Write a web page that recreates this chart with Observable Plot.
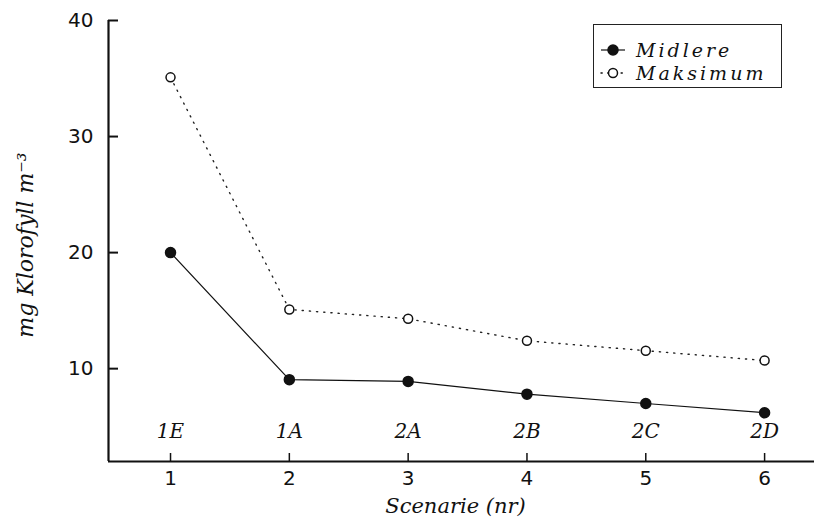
<!DOCTYPE html>
<html><head><meta charset="utf-8">
<script src="https://cdn.jsdelivr.net/npm/d3@7"></script>
<script src="https://cdn.jsdelivr.net/npm/@observablehq/plot@0.6"></script>
<style>
body{margin:0;background:#fff;}
#wrap{position:relative;width:814px;height:529px;}
.legend{position:absolute;left:593px;top:24px;width:189px;height:64px;border:1.5px solid #222;box-sizing:border-box;background:#fff;}
.legend .row{position:absolute;left:0;height:22px;display:flex;align-items:center;}
.legend .row svg{margin-left:6px;}
.legend .lab{font-family:"DejaVu Serif",serif;font-style:italic;font-size:19px;letter-spacing:3px;color:#111;margin-left:10px;}
g[aria-label="ylabel"] text{letter-spacing:1.5px;}
g[aria-label="xlabel"] text{letter-spacing:0.6px;}
</style></head><body><div id="wrap"></div>
<script>
const scenario = [1, 2, 3, 4, 5, 6];
const scenarioCodes = ["1E", "1A", "2A", "2B", "2C", "2D"];
const midlere = [20.0, 9.05, 8.9, 7.8, 7.0, 6.2];
const maksimum = [35.1, 15.1, 14.3, 12.4, 11.55, 10.7];
const yTicks = [10, 20, 30, 40];
const xTicks = [1, 2, 3, 4, 5, 6];
const xDomain = [0.478, 6.42];
const yDomain = [2, 40];
const seriesNames = ["Midlere", "Maksimum"];

const midData = scenario.map((s, i) => ({s, v: midlere[i]}));
const maxData = scenario.map((s, i) => ({s, v: maksimum[i]}));
const codeData = scenario.map((s, i) => ({s, c: scenarioCodes[i]}));

const W = 814, H = 529, mL = 108, mR = 0, mT = 20, mB = 68;
const frameW = W - mL - mR, frameH = H - mT - mB;
const serif = "'DejaVu Serif', serif";

const chart = Plot.plot({
  width: W, height: H,
  marginLeft: mL, marginRight: mR, marginTop: mT, marginBottom: mB,
  x: {domain: xDomain},
  y: {domain: yDomain},
  style: {fontFamily: "'DejaVu Sans', sans-serif", fontSize: "20px", color: "#111", background: "white"},
  marks: [
    Plot.axisY(yTicks, {tickSize: 0, tickPadding: 15, label: null, fontSize: 20, tickFormat: d3.format("d")}),
    Plot.axisX(xTicks, {tickSize: 0, tickPadding: 9, label: null, fontSize: 20, tickFormat: d3.format("d")}),
    Plot.tickY(yTicks, {y: d => d, insetRight: frameW - 10, stroke: "#111", strokeWidth: 2}),
    Plot.tickX(xTicks, {x: d => d, insetTop: frameH - 8, stroke: "#111", strokeWidth: 1.5}),
    Plot.ruleY([yDomain[0]], {stroke: "#111", strokeWidth: 2.2}),
    Plot.ruleX([xDomain[0]], {stroke: "#111", strokeWidth: 2.2}),
    Plot.line(maxData, {x: "s", y: "v", stroke: "#222", strokeWidth: 1.4, strokeDasharray: "1.2,6", strokeLinecap: "round"}),
    Plot.line(midData, {x: "s", y: "v", stroke: "#111", strokeWidth: 1.2}),
    Plot.dot(maxData, {x: "s", y: "v", r: 4.5, fill: "white", stroke: "#111", strokeWidth: 1.5}),
    Plot.dot(midData, {x: "s", y: "v", r: 5, fill: "#111", stroke: "#111"}),
    Plot.text(codeData, {x: "s", text: "c", frameAnchor: "bottom", dy: -24, fontFamily: serif, fontStyle: "italic", fontSize: 20}),
    Plot.text(["Scenarie (nr)"], {ariaLabel: "xlabel", frameAnchor: "bottom", dx: -6, dy: 45, fontFamily: serif, fontStyle: "italic", fontSize: 21, lineAnchor: "middle"}),
    Plot.text(["mg Klorofyll m⁻³"], {ariaLabel: "ylabel", frameAnchor: "left", textAnchor: "middle", dx: -83, dy: 4, rotate: -90, fontFamily: serif, fontStyle: "italic", fontSize: 22, lineAnchor: "middle"})
  ]
});

const wrap = document.getElementById("wrap");
wrap.appendChild(chart);

const legend = document.createElement("div");
legend.className = "legend";
const sym = (filled, dotted) => `<svg width="26" height="14" viewBox="0 0 26 14">
  <line x1="1" y1="7" x2="25" y2="7" stroke="#111" stroke-width="${dotted ? 1.4 : 1.2}" ${dotted ? 'stroke-dasharray="1.2,5.5" stroke-linecap="round"' : ''}/>
  <circle cx="13" cy="7" r="${filled ? 5 : 4.5}" fill="${filled ? '#111' : '#fff'}" stroke="#111" stroke-width="1.5"/></svg>`;
legend.innerHTML = `<div class="row" style="top:14px">${sym(true,false)}<span class="lab">${seriesNames[0]}</span></div>
<div class="row" style="top:37px">${sym(false,true)}<span class="lab">${seriesNames[1]}</span></div>`;
wrap.appendChild(legend);
</script>
</body></html>
